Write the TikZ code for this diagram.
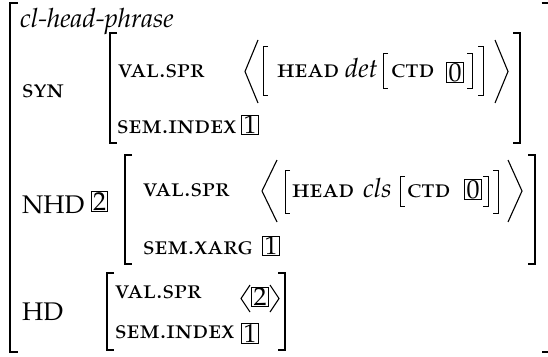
\documentclass[tikz,border=0pt]{standalone}
\usepackage[T1]{fontenc}
\usepackage[sc]{mathpazo}
% bracket helpers: #2 = x of the stroke, #3/#4 = top/bottom, #5 = tick length
\newcommand\avmLeft[5][brk]{\draw[#1] (#2+#5,#3) -- (#2,#3) -- (#2,#4) -- (#2+#5,#4);}
\newcommand\avmRight[5][brk]{\draw[#1] (#2-#5,#3) -- (#2,#3) -- (#2,#4) -- (#2-#5,#4);}
% angle brackets: #1 = tip x, #2 = open x, #3/#4 = top/bottom
\newcommand\avmAngle[4]{\draw[ang] (#2,#3) -- (#1,{(#3+#4)/2}) -- (#2,#4);}
% boxed reentrancy tag
\newcommand\avmTag[1]{{\fontsize{26}{31}\selectfont #1}}
\begin{document}
\begin{tikzpicture}[x=1pt,y=-1pt,
  lbl/.style={anchor=base west,inner sep=0pt,font=\fontsize{25.5}{31}\selectfont},
  feat/.style={lbl,font=\fontsize{26}{31}\selectfont\scshape},
  typ/.style={lbl,font=\fontsize{26.5}{31}\selectfont\itshape},
  tagbox/.style={draw,line width=0.65pt,inner sep=0pt,minimum width=16.5pt,minimum height=19.5pt},
  bigbrk/.style={line width=1.9pt},
  brk/.style={line width=1.6pt},
  smallbrk/.style={line width=1pt},
  ang/.style={line width=1.1pt}]
\useasboundingbox (0,0) rectangle (548,356);

% outer matrix
\avmLeft[bigbrk]{10}{3}{352}{8}
\avmRight[bigbrk]{549.5}{3}{352}{8}
\node[typ] (type) at (20,27) {cl-head-phrase};

% SYN
\node[feat] (syn) at (22,97) {syn};
\avmLeft{110}{33}{143}{7}
\avmRight{520}{33}{143}{7}
\node[feat] (synval) at (118,77) {val.spr};
\avmAngle{245}{258}{40}{103}
\avmLeft[smallbrk]{263}{46}{95}{5}
\node[feat] (synhead) at (277,77) {head};
\node[typ] (det) at (345,77) {det};
\avmLeft[smallbrk]{383}{53}{88}{5}
\node[feat] (synctd) at (391,77) {ctd};
\node[tagbox] (synzero) at (455,72.5) {\avmTag{0}};
\avmRight[smallbrk]{472}{53}{88}{5}
\avmRight[smallbrk]{483}{46}{95}{5}
\avmAngle{508}{495}{40}{103}
\node[feat] (synsem) at (117,133) {sem.index};
\node[tagbox] (synone) at (250,125) {\avmTag{1}};

% NHD
\node[lbl] (nhd) at (22,213) {NHD};
\node[tagbox] (nhdtag) at (99.5,201.5) {\avmTag{2}};
\avmLeft{125}{155}{264}{7}
\avmRight{535}{155}{264}{7}
\node[feat] (nhdval) at (143,196) {val.spr};
\avmAngle{262}{277}{160}{222}
\avmLeft[smallbrk]{285}{170}{213}{5}
\node[feat] (nhdhead) at (292,197) {head};
\node[typ] (cls) at (363,197) {cls};
\avmLeft[smallbrk]{400}{176}{206}{5}
\node[feat] (nhdctd) at (407,197) {ctd};
\node[tagbox] (nhdzero) at (473,189.5) {\avmTag{0}};
\avmRight[smallbrk]{488}{176}{206}{5}
\avmRight[smallbrk]{498}{170}{213}{5}
\avmAngle{522}{508}{160}{222}
\node[feat] (nhdsem) at (143,254) {sem.xarg};
\node[tagbox] (nhdone) at (271,246) {\avmTag{1}};

% HD
\node[lbl] (hd) at (22,320) {HD};
\avmLeft{107}{273}{350}{7}
\avmRight{285}{273}{350}{7}
\node[feat] (hdval) at (115,298) {val.spr};
\avmAngle{241}{250}{285}{312}
\node[tagbox] (hdtag) at (260,297) {\avmTag{2}};
\avmAngle{279}{270}{285}{312}
\node[feat] (hdsem) at (115,338) {sem.index};
\node[tagbox] (hdone) at (250,333.5) {\avmTag{1}};
\end{tikzpicture}
\end{document}
